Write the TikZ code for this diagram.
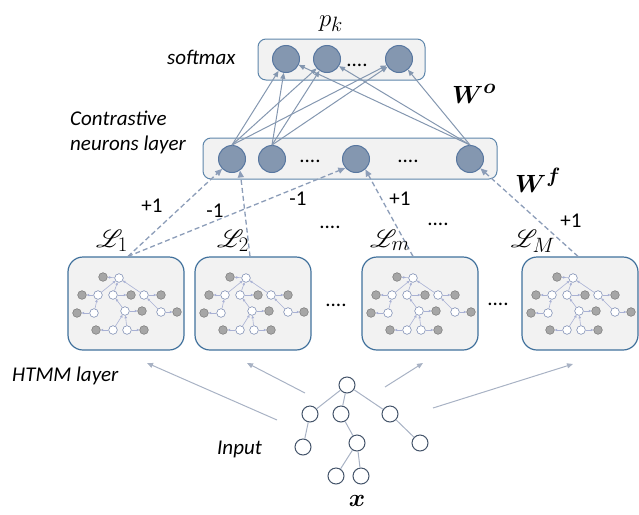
\documentclass[tikz,border=0pt]{standalone}
\usepackage{fontspec}
\setmainfont{Carlito}
\usepackage{bm}
\usepackage{mathrsfs}
\usetikzlibrary{arrows.meta}
\definecolor{boxfill}{HTML}{F2F2F2}
\definecolor{boxline}{HTML}{41719C}
\definecolor{neufill}{HTML}{8497B0}
\definecolor{neuline}{HTML}{5877A0}
\definecolor{arr}{HTML}{8497B0}
\definecolor{dasharr}{HTML}{8C9DB8}
\definecolor{inline}{HTML}{44546A}
\definecolor{inedge}{HTML}{A8B2C4}
\definecolor{gnfill}{HTML}{A6A6A6}
\definecolor{gnline}{HTML}{808080}
\definecolor{wnline}{HTML}{7F8FB5}
\definecolor{tedge}{HTML}{A9B1D4}
\tikzset{
  hbox/.style={draw=boxline, fill=boxfill, line width=1.2pt, rounded corners=15pt,
    minimum width=116pt, minimum height=93pt, inner sep=0pt},
  lbox/.style={draw=boxline!85, fill=boxfill, line width=1pt, rounded corners=8pt,
    minimum height=41pt, inner sep=0pt},
  neuron/.style={circle, draw=neuline, fill=neufill, line width=1pt, minimum size=27pt, inner sep=0pt},
  innode/.style={circle, draw=inline, fill=white, line width=1pt, minimum size=16pt, inner sep=0pt},
  tw/.style={circle, draw=wnline, fill=white, line width=0.6pt, minimum size=8.6pt, inner sep=0pt},
  tg/.style={circle, draw=gnline, fill=gnfill, line width=0.6pt, minimum size=8.6pt, inner sep=0pt},
  tarr/.style={draw=tedge, line width=0.6pt, -{Triangle[length=2.6pt,width=2.4pt]}},
  warrow/.style={draw=arr, line width=1pt, -{Triangle[length=6pt,width=5pt]}},
  dasharrow/.style={draw=dasharr, line width=1.3pt, dash pattern=on 5pt off 3pt, -{Triangle[length=7pt,width=6pt]}},
  inarrow/.style={draw=inedge, line width=1pt, -{Triangle[length=6pt,width=5pt]}},
  inedgeline/.style={draw=inedge, line width=1pt},
  txt/.style={font=\fontsize{21}{25}\selectfont, inner sep=0pt},
  itxt/.style={font=\fontsize{21}{25}\selectfont\itshape, inner sep=0pt},
  mlab/.style={font=\fontsize{28}{32}\selectfont, inner sep=0pt},
}
\newcommand\htmmtree[1]{%
  \foreach \n/\px/\py in {w1/-7/-25.5, w2/-28/-8.5, w3/-13/-8.5, w4/18/-8.5, w5/-32/9.5, w6/-1/7.5, w7/35/8.5, w8/-13/26.5, w9/1/26.5}
    {\node[tw] (#1\n) at (\px,\py) {};}
  \foreach \n/\px/\py in {g1/-23/-26.5, g2/-44/-8.5, g3/5/-8.5, g4/35/-8.5, g5/-49/9.5, g6/16/7.5, g7/51/8.5, g8/-30/26.5, g9/18/26.5}
    {\node[tg] (#1\n) at (\px,\py) {};}
  \foreach \a/\b in {w2/w1, w3/w1, w4/w1, w5/w2, w6/w3, w7/w4, w8/w6, w9/w6,
                     w1/g1, w2/g2, w3/g3, w4/g4, w5/g5, w6/g6, w7/g7, w8/g8, w9/g9}
    {\draw[tarr] (#1\a) -- (#1\b);}
}
\begin{document}
\begin{tikzpicture}[x=1pt,y=-1pt]
\useasboundingbox (0,0) rectangle (639,514);

% layer boxes
\node[lbox, minimum width=167pt] (smbox) at (341.5,59.5) {};
\node[lbox, minimum width=294pt] (cnbox) at (350,158.5) {};

% softmax neurons
\node[neuron] (s1) at (286,59) {};
\node[neuron] (s2) at (327,59) {};
\node[neuron] (s3) at (399,59) {};
\node[txt, anchor=base] (sd) at (357,66) {....};

% contrastive neurons
\node[neuron] (n1) at (232,159) {};
\node[neuron] (n2) at (272,159) {};
\node[neuron] (n3) at (356,159) {};
\node[neuron] (n4) at (470,159) {};
\node[txt, anchor=base] (cd1) at (310,162) {....};
\node[txt, anchor=base] (cd2) at (408,162) {....};

% W^o connections
\foreach \a in {n1,n2,n4}
  \foreach \b in {s1,s2,s3}
    {\draw[warrow] (\a.north) -- (\b);}

% HTMM boxes
\node[hbox] (h1) at (126,303.5) {};
\node[hbox] (h2) at (253,303.5) {};
\node[hbox] (hm) at (420,303.5) {};
\node[hbox] (hM) at (580,303.5) {};
\begin{scope}[shift={(126,303.5)}]\htmmtree{a}\end{scope}
\begin{scope}[shift={(253,303.5)}]\htmmtree{b}\end{scope}
\begin{scope}[shift={(420,303.5)}]\htmmtree{c}\end{scope}
\begin{scope}[shift={(580,303.5)}]\htmmtree{d}\end{scope}
\node[txt, anchor=base] (bd1) at (336,306) {....};
\node[txt, anchor=base] (bd2) at (498,305) {....};

% dashed W^f connections
\draw[dasharrow] ([xshift=2pt]h1.north) -- (n1.-135);
\draw[dasharrow] ([xshift=2pt]h1.north) -- (n3.-140);
\draw[dasharrow] ([xshift=-3pt]h2.north) -- (n1.-55);
\draw[dasharrow] ([xshift=-7pt]hm.north) -- (n3.-48);
\draw[dasharrow] ([xshift=-2pt]hM.north) -- (n4.-42);

% labels
\node[mlab, anchor=base] (pk) at (331,26) {$p_k$};
\node[itxt, anchor=base west] (smlab) at (167,64) {softmax};
\node[itxt, anchor=base west, align=left] (cnlab) at (70,150) {Contrastive\\[0pt]neurons layer};
\node[mlab, anchor=base west] (wo) at (452,103) {$\bm{W}^{\bm{o}}$};
\node[mlab, anchor=base west] (wf) at (515,192) {$\bm{W}^{\bm{f}}$};
\node[mlab, anchor=base] (l1) at (112,247) {$\mathscr{L}_1$};
\node[mlab, anchor=base] (l2) at (233,247) {$\mathscr{L}_2$};
\node[mlab, anchor=base] (lm) at (390,247) {$\mathscr{L}_m$};
\node[mlab, anchor=base] (lM) at (533,247) {$\mathscr{L}_M$};
\node[txt, anchor=base] (p1) at (152,212) {+1};
\node[txt, anchor=base] (m1) at (215,217) {-1};
\node[txt, anchor=base] (m2) at (298,205) {-1};
\node[txt, anchor=base] (p2) at (400,205) {+1};
\node[txt, anchor=base] (p3) at (571,227) {+1};
\node[txt, anchor=base] (ud1) at (330,228) {....};
\node[txt, anchor=base] (ud2) at (438,225) {....};
\node[itxt, anchor=base west] (htlab) at (12,381) {HTMM layer};
\node[itxt, anchor=base west] (inlab) at (217,454) {Input};
\node[mlab, anchor=base] (xlab) at (357,506) {$\bm{x}$};

% input tree
\node[innode] (t0) at (347,385) {};
\node[innode] (t1) at (310,414) {};
\node[innode] (t2) at (341,414) {};
\node[innode] (t3) at (390,414) {};
\node[innode] (t4) at (303,447) {};
\node[innode] (t5) at (357,443) {};
\node[innode] (t6) at (420,443) {};
\node[innode] (t7) at (336,476) {};
\node[innode] (t8) at (361,476) {};
\foreach \a/\b in {t0/t1, t0/t2, t0/t3, t1/t4, t2/t5, t3/t6, t5/t7, t5/t8}
  {\draw[inedgeline] (\a) -- (\b);}

% input to HTMM arrows
\coordinate (f1) at (277,420); \coordinate (e1) at (147,363);
\coordinate (f2) at (305,393); \coordinate (e2) at (247,363);
\coordinate (f3) at (385,387); \coordinate (e3) at (423,363);
\coordinate (f4) at (433,408); \coordinate (e4) at (573,364);
\foreach \i in {1,2,3,4} {\draw[inarrow] (f\i) -- (e\i);}
\end{tikzpicture}
\end{document}
